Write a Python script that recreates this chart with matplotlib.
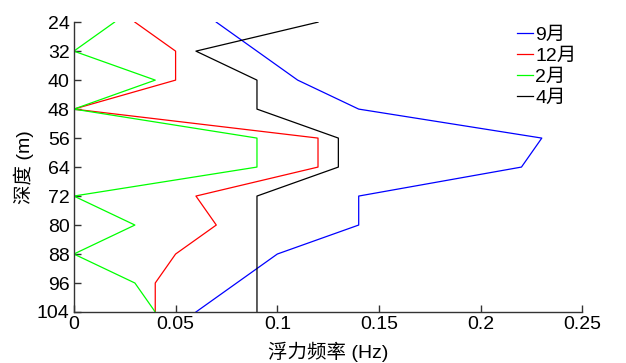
import matplotlib
matplotlib.use("Agg")
import matplotlib.pyplot as plt

plt.rcParams['font.family'] = ['Liberation Sans', 'Noto Sans CJK SC', 'DejaVu Sans']

# depth levels (m)
depth = [24, 32, 40, 48, 56, 64, 72, 80, 88, 96, 104]

# buoyancy frequency (Hz) per month
sep = [0.07, 0.09, 0.11, 0.14, 0.23, 0.22, 0.14, 0.14, 0.10, 0.08, 0.06]
dec = [0.03, 0.05, 0.05, 0.0, 0.12, 0.12, 0.06, 0.07, 0.05, 0.04, 0.04]
feb = [0.02, 0.0, 0.04, 0.0, 0.09, 0.09, 0.0, 0.03, 0.0, 0.03, 0.04]
apr = [0.12, 0.06, 0.09, 0.09, 0.13, 0.13, 0.09, 0.09, 0.09, 0.09, 0.09]

labels = ["9月", "12月", "2月", "4月"]
xticks = [0, 0.05, 0.1, 0.15, 0.2, 0.25]
xtick_labels = ["0", "0.05", "0.1", "0.15", "0.2", "0.25"]

fig = plt.figure(figsize=(6.26, 3.63), dpi=100)
ax = fig.add_axes([0.118, 0.1405, 0.8125, 0.7985])

ax.plot(sep, depth, color="#0000ff", lw=0.9, label=labels[0])
ax.plot(dec, depth, color="#ff0000", lw=0.9, label=labels[1])
ax.plot(feb, depth, color="#00ff00", lw=0.9, label=labels[2])
ax.plot(apr, depth, color="#000000", lw=0.9, label=labels[3])

ax.set_xlim(0, 0.25)
ax.set_ylim(104, 24)
ax.set_xticks(xticks)
ax.set_xticklabels(xtick_labels)
ax.set_yticks(depth)

for s in ["top", "right"]:
    ax.spines[s].set_visible(False)
for s in ["left", "bottom"]:
    ax.spines[s].set_color("#333333")
    ax.spines[s].set_linewidth(1.0)

ax.tick_params(direction="in", length=5, width=1, color="#333333",
               labelsize=14, pad=3)

ax.set_xlabel("浮力频率 (Hz)", fontsize=14, labelpad=6)
ax.set_ylabel("深度 (m)", fontsize=14, labelpad=2)

leg = ax.legend(loc="upper left", bbox_to_anchor=(517 / 626, 1 - 26 / 363),
                bbox_transform=fig.transFigure, frameon=False, fontsize=14,
                handlelength=0.8, handletextpad=0.15, labelspacing=0.18,
                borderpad=0, borderaxespad=0)

fig.savefig("out.png", dpi=100)
